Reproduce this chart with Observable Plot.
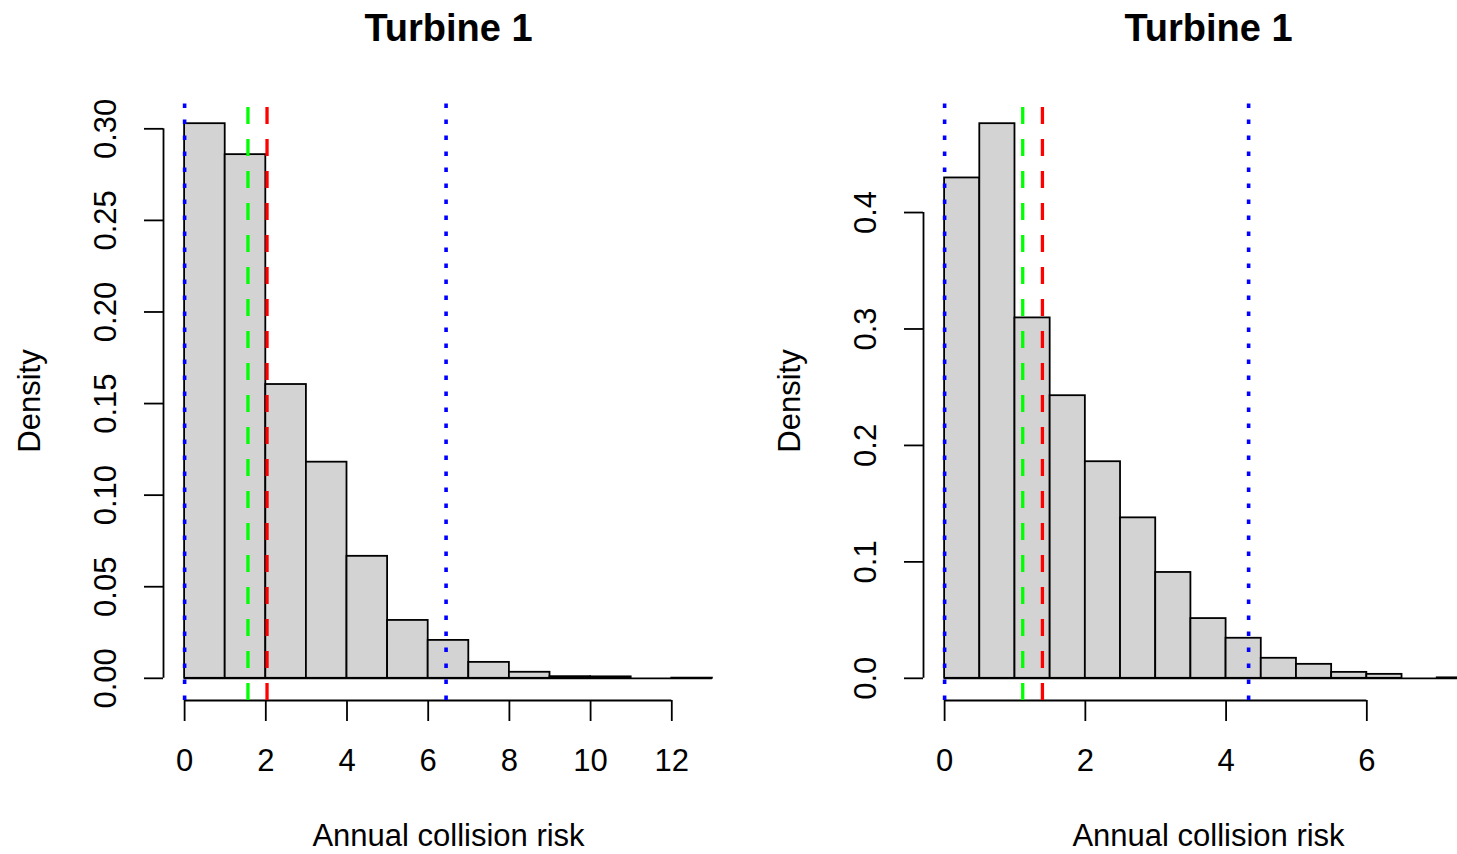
<!DOCTYPE html>
<html>
<head>
<meta charset="utf-8">
<script src="https://cdn.jsdelivr.net/npm/d3@7"></script>
<script src="https://cdn.jsdelivr.net/npm/@observablehq/plot@0.6"></script>
<style>
  body { margin: 0; background: #fff; overflow: hidden; }
  #wrap { position: relative; width: 1457px; height: 854px; overflow: hidden; background: #fff; }
  #wrap svg { position: absolute; top: 0; }
</style>
</head>
<body>
<div id="wrap"></div>
<script>
// ---- Data ----
const titleLeft = "Turbine 1";
const titleRight = "Turbine 1";
const xAxisLabel = "Annual collision risk";
const yAxisLabel = "Density";

// Left histogram (bin width 1)
const leftBreaks = [0, 1, 2, 3, 4, 5, 6, 7, 8, 9, 10, 11, 12, 13];
const leftDensity = [0.3028, 0.2859, 0.1604, 0.1180, 0.0666, 0.0316, 0.0207, 0.0087, 0.0033, 0.0009, 0.0008, 0, 0.0001];
const leftXTicks = [0, 2, 4, 6, 8, 10, 12];
const leftYTicks = [0, 0.05, 0.10, 0.15, 0.20, 0.25, 0.30];
const leftInterval = [0, 6.44];   // blue dotted
const leftMedian = 1.56;          // green dashed
const leftMean = 2.03;            // red dashed

// Right histogram (bin width 0.5)
const rightBreaks = [0, 0.5, 1, 1.5, 2, 2.5, 3, 3.5, 4, 4.5, 5, 5.5, 6, 6.5, 7, 7.5];
const rightDensity = [0.4297, 0.4763, 0.3095, 0.2427, 0.1860, 0.1378, 0.0909, 0.0513, 0.0344, 0.0172, 0.0120, 0.0051, 0.0034, 0, 0.0004];
const rightXTicks = [0, 2, 4, 6];
const rightYTicks = [0, 0.1, 0.2, 0.3, 0.4];
const rightInterval = [0, 4.32];
const rightMedian = 1.11;
const rightMean = 1.39;

// ---- Rendering ----
const FONT = "'Liberation Sans', Arial, Helvetica, sans-serif";

function panel(title, breaks, density, xTicks, yTicks, yFmt, interval, median, mean) {
  const bins = density.map((d, i) => ({x1: breaks[i], x2: breaks[i + 1], y: d}));
  const b0 = breaks[0], b1 = breaks[breaks.length - 1];
  const xpad = (b1 - b0) * 0.04;
  const ymax = d3.max(density);
  const ypad = ymax * 0.04;
  const xd = [b0 - xpad, b1 + xpad];
  const yd = [-ypad, ymax + ypad];
  const lo = () => yd[0], hi = () => yd[1];
  return Plot.plot({
    width: 760,
    height: 854,
    marginTop: 101,
    marginBottom: 154,
    marginLeft: 163,
    marginRight: 27,
    x: {domain: xd},
    y: {domain: yd},
    style: {fontFamily: FONT, fontSize: "31px", color: "black", background: "transparent", overflow: "visible"},
    marks: [
      Plot.rectY(bins, {x1: "x1", x2: "x2", y1: 0, y2: "y", fill: "#D3D3D3", stroke: "black", strokeWidth: 1.8}),
      Plot.ruleY([0], {x1: b0, x2: b1, stroke: "black", strokeWidth: 1.8}),
      Plot.ruleY([yd[0]], {x1: xTicks[0], x2: xTicks[xTicks.length - 1], stroke: "black", strokeWidth: 1.8}),
      Plot.ruleX([xd[0]], {y1: yTicks[0], y2: yTicks[yTicks.length - 1], stroke: "black", strokeWidth: 1.8}),
      Plot.axisX({ticks: xTicks, tickSize: 21, tickPadding: 27, tickFormat: d => String(d), label: null,
                  stroke: "black", strokeWidth: 1.8, fontSize: 31, fill: "black"}),
      Plot.axisY({ticks: yTicks, tickSize: 19, tickPadding: 29, tickRotate: -90, tickFormat: d3.format(yFmt), label: null,
                  stroke: "black", strokeWidth: 1.8, fontSize: 31, fill: "black"}),
      Plot.ruleX(interval, {x: d => d, y1: lo, y2: hi, stroke: "#0000FF", strokeWidth: 3.6,
                            strokeDasharray: "4.5,11.5", strokeLinecap: "butt"}),
      Plot.ruleX([median], {x: d => d, y1: lo, y2: hi, stroke: "#00FF00", strokeWidth: 3.3,
                            strokeDasharray: "17,15", strokeLinecap: "butt"}),
      Plot.ruleX([mean], {x: d => d, y1: lo, y2: hi, stroke: "#FF0000", strokeWidth: 3.3,
                          strokeDasharray: "17,15", strokeLinecap: "butt"}),
      Plot.text([title], {text: d => d, frameAnchor: "top", dy: -61, lineAnchor: "bottom",
                          fontWeight: "bold", fontSize: 38, fill: "black"}),
      Plot.text([xAxisLabel], {text: d => d, frameAnchor: "bottom", dy: 145, lineAnchor: "bottom",
                               fontSize: 31, fill: "black"}),
      Plot.text([yAxisLabel], {text: d => d, frameAnchor: "left", dx: -133, rotate: -90, lineAnchor: "middle",
                               textAnchor: "middle", fontSize: 31, fill: "black"})
    ]
  });
}

const wrap = document.getElementById("wrap");
const left = panel(titleLeft, leftBreaks, leftDensity, leftXTicks, leftYTicks, ".2f", leftInterval, leftMedian, leftMean);
left.style.left = "0px";
wrap.append(left);
const right = panel(titleRight, rightBreaks, rightDensity, rightXTicks, rightYTicks, ".1f", rightInterval, rightMedian, rightMean);
right.style.left = "760px";
wrap.append(right);
</script>
</body>
</html>
